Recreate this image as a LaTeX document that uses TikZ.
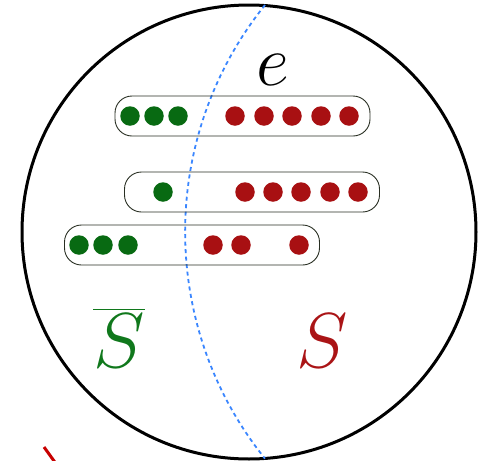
\documentclass[tikz,border=0pt]{standalone}
\definecolor{dotgreen}{RGB}{8,106,18}
\definecolor{dotred}{RGB}{168,16,18}
\definecolor{labgreen}{RGB}{16,120,28}
\definecolor{labred}{RGB}{170,20,22}
\definecolor{cutblue}{RGB}{58,134,255}
\definecolor{bagline}{RGB}{40,46,34}
\definecolor{edgered}{RGB}{200,0,0}
\tikzset{
  gdot/.style={circle,fill=dotgreen,inner sep=0pt,minimum size=19.5pt},
  rdot/.style={circle,fill=dotred,inner sep=0pt,minimum size=19.5pt},
  bag/.style={draw=bagline,line width=0.9pt,rounded corners=17pt,minimum width=255pt,minimum height=40pt,inner sep=0pt},
  bigcirc/.style={draw=black,line width=3pt},
  cut/.style={draw=cutblue,line width=1.8pt,dash pattern=on 4pt off 3.5pt},
}
\begin{document}
\begin{tikzpicture}[x=1pt,y=-1pt]
\useasboundingbox (0,0) rectangle (496,461);
% outer set
\node[bigcirc,circle,minimum size=454pt,inner sep=0pt] (world) at (249,232) {};
% cut curve
\coordinate (cuttop) at (265,5);
\draw[cut] (cuttop) arc[start angle=-141.2,end angle=-218.8,radius=362];
% bags
\node[bag] (b1) at (242.5,116) {};
\node[bag] (b2) at (252,192) {};
\node[bag] (b3) at (192,245) {};
% row 1
\node[gdot] (g11) at (130,116) {};
\node[gdot] (g12) at (154,116) {};
\node[gdot] (g13) at (178,116) {};
\node[rdot] (r11) at (235,116) {};
\node[rdot] (r12) at (264,116) {};
\node[rdot] (r13) at (292,116) {};
\node[rdot] (r14) at (321,116) {};
\node[rdot] (r15) at (349,116) {};
% row 2
\node[gdot] (g21) at (163,192) {};
\node[rdot] (r21) at (245,192) {};
\node[rdot] (r22) at (273,192) {};
\node[rdot] (r23) at (301,192) {};
\node[rdot] (r24) at (330,192) {};
\node[rdot] (r25) at (358,192) {};
% row 3
\node[gdot] (g31) at (79,245) {};
\node[gdot] (g32) at (103,245) {};
\node[gdot] (g33) at (128,245) {};
\node[rdot] (r31) at (213,245) {};
\node[rdot] (r32) at (241,245) {};
\node[rdot] (r33) at (299,245) {};
% labels
\node[anchor=base,inner sep=0pt,scale=2.9] (elab) at (273,85) {\Huge $e$};
\node[anchor=base,inner sep=0pt,text=labgreen,scale=3.13] (sbar) at (119,367) {\Huge $\overline{S}$};
\node[anchor=base,inner sep=0pt,text=labred,scale=3.13] (slab) at (322,367) {\Huge $S$};
% partial red edge at lower left
\coordinate (ea) at (44,447);
\coordinate (eb) at (55.5,463);
\draw[edgered,line width=3pt] (ea) -- (eb);
\end{tikzpicture}
\end{document}
